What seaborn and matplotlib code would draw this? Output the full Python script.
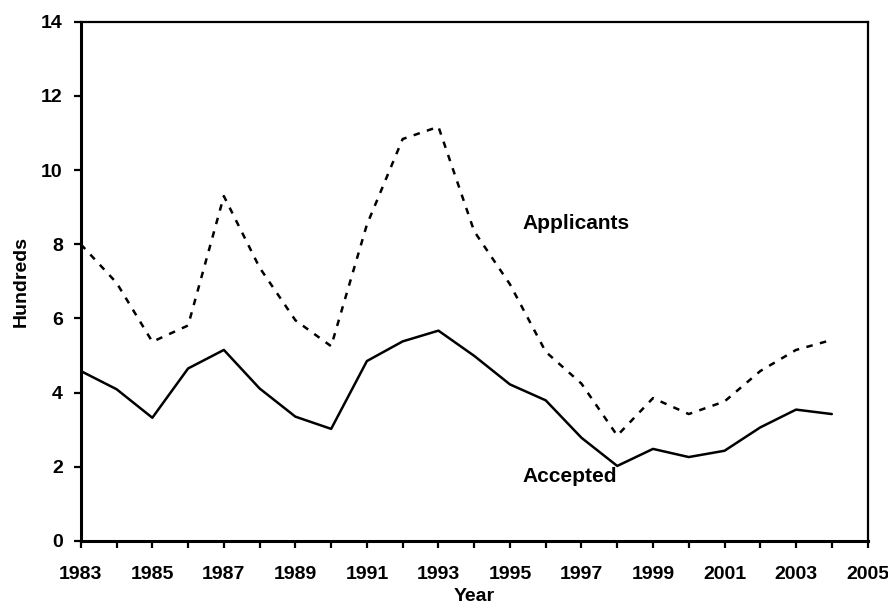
import pandas as pd
import numpy as np
import matplotlib
matplotlib.use('Agg')
import matplotlib.pyplot as plt
import seaborn as sns

years = list(range(1983, 2005))
applicants = [8.0, 6.96, 5.37, 5.81, 9.30, 7.37, 5.95, 5.25, 8.53, 10.84, 11.17,
              8.35, 6.92, 5.10, 4.24, 2.84, 3.85, 3.42, 3.76, 4.58, 5.15, 5.42]
accepted = [4.58, 4.09, 3.32, 4.65, 5.15, 4.11, 3.35, 3.02, 4.85, 5.38, 5.67,
            4.99, 4.22, 3.79, 2.78, 2.02, 2.48, 2.26, 2.43, 3.06, 3.54, 3.42]
xticks_major = list(range(1983, 2006, 2))
yticks = list(range(0, 15, 2))

df = pd.DataFrame({
    'Year': years * 2,
    'Hundreds': applicants + accepted,
    'Series': ['Applicants'] * len(years) + ['Accepted'] * len(years),
})

sns.set_style('white')
plt.rcParams['font.family'] = ['Liberation Sans', 'DejaVu Sans']
plt.rcParams['font.weight'] = 'bold'
plt.rcParams['text.color'] = 'black'
plt.rcParams['axes.labelcolor'] = 'black'
plt.rcParams['xtick.color'] = 'black'
plt.rcParams['ytick.color'] = 'black'

fig = plt.figure(figsize=(8.88, 6.07), dpi=100)
ax = fig.add_axes([0.091, 0.109, 0.886, 0.855])

sns.lineplot(data=df, x='Year', y='Hundreds', style='Series',
             dashes={'Applicants': (2.6, 3.0), 'Accepted': ''},
             color='black', linewidth=1.8, legend=False, ax=ax)

ax.set_xlim(1983, 2005)
ax.set_ylim(0, 14)
ax.set_xticks(xticks_major)
ax.set_xticks(range(1983, 2006), minor=True)
ax.set_yticks(yticks)
ax.tick_params(axis='both', which='both', direction='out', length=5, width=1.6,
               bottom=True, left=True, labelsize=14)
ax.tick_params(axis='x', which='major', pad=13)
ax.tick_params(axis='y', which='major', pad=8)
for lab in ax.get_xticklabels() + ax.get_yticklabels():
    lab.set_fontweight('bold')

for side in ['left', 'bottom']:
    ax.spines[side].set_linewidth(2.2)
for side in ['top', 'right']:
    ax.spines[side].set_linewidth(1.6)
for s in ax.spines.values():
    s.set_color('black')

ax.set_xlabel('Year', fontsize=14, fontweight='bold', labelpad=4)
ax.set_ylabel('Hundreds', fontsize=14, fontweight='bold', labelpad=8)

ax.text(1995.35, 8.57, 'Applicants', fontsize=15, fontweight='bold', va='center', ha='left')
ax.text(1995.35, 1.73, 'Accepted', fontsize=15, fontweight='bold', va='center', ha='left')

fig.savefig('out.png', dpi=100)
